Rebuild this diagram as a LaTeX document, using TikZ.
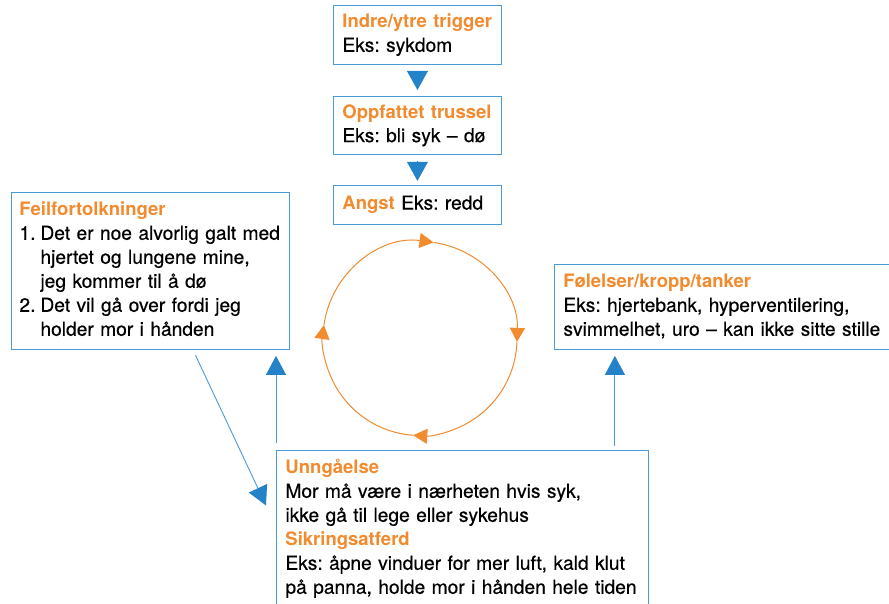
\documentclass[tikz,border=0pt]{standalone}
\usepackage{fontspec}
\setmainfont{TeX Gyre Heros}
\newfontfamily\bodyfont{TeX Gyre Heros}[FakeBold=0.4,Ligatures=TeX]
\newfontfamily\hdfont{TeX Gyre Heros}[Ligatures=TeX]
\usetikzlibrary{positioning,arrows.meta,calc}
\definecolor{hdorange}{HTML}{F28A2E}
\definecolor{boxblue}{HTML}{4C9BD9}
\definecolor{tipblue}{HTML}{2482C9}
\newcommand{\hd}[1]{{\hdfont\bfseries\fontsize{18.5}{24}\selectfont\color{hdorange}#1}}
\frenchspacing

\begin{document}
\begin{tikzpicture}[
    x=1pt,y=-1pt,
    box/.style={draw=boxblue,line width=0.9pt,fill=white,align=left,anchor=north west,
        inner xsep=9pt,inner ysep=0pt,font=\bodyfont\fontsize{19.2}{24}\selectfont},
    tri/.style={draw=tipblue,line width=0.5pt,-{Triangle[length=19pt,width=21pt,color=tipblue]}},
    flow/.style={draw=boxblue,line width=0.9pt,-{Triangle[length=19pt,width=20pt,color=tipblue]}},
    loopline/.style={draw=hdorange,line width=1pt,-{Triangle[length=14pt,width=15pt]}}]
    \useasboundingbox (0,0) rectangle (889,603);

    % top chain
    \node[box,text width=150pt,minimum height=59pt] (trigger) at (333,5)
        {\strut\hd{Indre/ytre trigger}\\Eks: sykdom\strut};
    \node[box,text width=150pt,minimum height=58pt] (threat) [below=31pt of trigger]
        {\strut\hd{Oppfattet trussel}\\Eks: bli syk – dø\strut};
    \node[box,text width=150pt,minimum height=39pt] (angst) [below=30pt of threat]
        {\strut\hd{Angst} Eks: redd\strut};

    % side and bottom boxes
    \node[box,inner xsep=8pt,text width=262pt,minimum height=157pt] (misint) at (11,192)
        {\strut\hd{Feilfortolkninger}\\
        \makebox[21pt][l]{1.}Det er noe alvorlig galt med\\
        \hspace*{21pt}hjertet og lungene mine,\\
        \hspace*{21pt}jeg kommer til å dø\\
        \makebox[21pt][l]{2.}Det vil gå over fordi jeg\\
        \hspace*{21pt}holder mor i hånden\strut};
    \node[box,text width=340pt,minimum height=85pt] (feelings) at (554,264)
        {\strut\hd{Følelser/kropp/tanker}\\
        Eks: hjertebank, hyperventilering,\\
        svimmelhet, uro – kan ikke sitte stille\strut};
    \node[box,text width=354pt,minimum height=157pt] (avoid) at (276,450)
        {\strut\hd{Unngåelse}\\
        Mor må være i nærheten hvis syk,\\
        ikke gå til lege eller sykehus\\
        \hd{Sikringsatferd}\\
        Eks: åpne vinduer for mer luft, kald klut\\
        på panna, holde mor i hånden hele tiden\strut};

    \draw[tri,shorten <=6pt,shorten >=6pt] (trigger) -- (threat);
    \draw[tri,shorten <=6pt,shorten >=4pt] (threat) -- (angst);

    % vicious circle
    \coordinate (cyc) at (420,338.5);
    \draw[loopline] ($(cyc)+(-172:97)$) arc[start angle=-172,end angle=-82,radius=97];
    \draw[loopline] ($(cyc)+(-82:97)$) arc[start angle=-82,end angle=2,radius=97];
    \draw[loopline] ($(cyc)+(2:97)$) arc[start angle=2,end angle=94,radius=97];
    \draw[loopline] ($(cyc)+(94:97)$) arc[start angle=94,end angle=188,radius=97];

    \draw[flow,shorten <=7pt,shorten >=6pt] (avoid.north west) -- (avoid.north west |- misint.south);
    \draw[flow,shorten <=4pt,shorten >=6pt] ([xshift=-34pt]avoid.north east)
        -- ([xshift=-34pt]avoid.north east |- feelings.south);
    \draw[flow,shorten <=6pt] ([xshift=182pt]misint.south west)
        -- ([xshift=-10pt,yshift=23.5pt]avoid.west);
\end{tikzpicture}
\end{document}
